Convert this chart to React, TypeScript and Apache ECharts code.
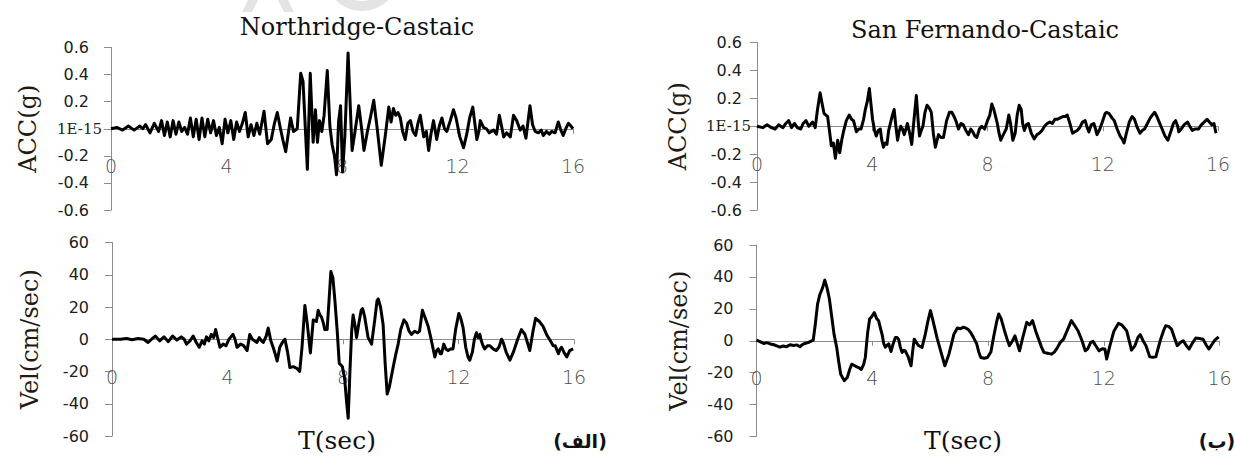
import React, { useEffect, useRef } from "react";
import * as echarts from "echarts";

// Time axis ticks (seconds)
const T_MIN = 0;
const T_MAX = 16;
const T_STEP = 4;

// Acceleration axis (g) and velocity axis (cm/sec)
const ACC_MIN = -0.6;
const ACC_MAX = 0.6;
const ACC_STEP = 0.2;
const VEL_MIN = -60;
const VEL_MAX = 60;
const VEL_STEP = 20;

const TITLES = ["Northridge-Castaic", "San Fernando-Castaic"];
const PANEL_TAGS = ["(الف)", "(ب)"];

// Northridge-Castaic acceleration record
const NR_ACC_T = [
  0.0, 0.2, 0.4, 0.6, 0.8, 1.0, 1.1, 1.2, 1.35, 1.5, 1.65, 1.75, 1.85, 1.95, 2.05, 2.15, 2.25, 2.35, 2.45, 2.55,
  2.65, 2.75, 2.85, 2.95, 3.05, 3.15, 3.25, 3.35, 3.45, 3.55, 3.65, 3.75, 3.85, 3.95, 4.05, 4.15, 4.25, 4.35, 4.45, 4.55,
  4.65, 4.75, 4.85, 4.95, 5.05, 5.15, 5.3, 5.42, 5.55, 5.65, 5.76, 5.85, 5.95, 6.05, 6.15, 6.22, 6.32, 6.45, 6.57, 6.65,
  6.8, 6.9, 7.0, 7.08, 7.15, 7.22, 7.3, 7.38, 7.49, 7.58, 7.66, 7.74, 7.81, 7.88, 7.95, 8.02, 8.1, 8.21, 8.35, 8.45,
  8.58, 8.68, 8.76, 8.88, 9.0, 9.1, 9.22, 9.36, 9.5, 9.62, 9.7, 9.78, 9.86, 9.94, 10.02, 10.1, 10.19, 10.28, 10.37, 10.46,
  10.55, 10.63, 10.71, 10.83, 10.92, 11.0, 11.08, 11.17, 11.28, 11.37, 11.46, 11.55, 11.63, 11.75, 11.86, 11.95, 12.08, 12.21, 12.32, 12.42,
  12.53, 12.6, 12.67, 12.74, 12.79, 12.9, 13.0, 13.1, 13.25, 13.35, 13.45, 13.6, 13.7, 13.83, 13.94, 14.05, 14.17, 14.27, 14.37, 14.51,
  14.6, 14.69, 14.8, 14.9, 14.97, 15.08, 15.18, 15.26, 15.38, 15.49, 15.58, 15.66, 15.75, 15.84, 15.93, 16.0,
];
const NR_ACC_V = [
  0, 0.01, -0.01, 0.02, -0.01, 0.02, 0.0, 0.03, -0.03, 0.04, -0.02, 0.06, -0.05, 0.05, -0.06, 0.06, -0.04, 0.05, -0.02, 0.01,
  -0.04, 0.08, -0.06, 0.07, -0.08, 0.08, -0.06, 0.07, -0.03, 0.06, -0.05, 0.01, -0.11, 0.07, -0.03, 0.06, -0.08, 0.05, -0.02, 0.04,
  0.12, -0.06, 0.03, -0.05, 0.04, -0.04, 0.13, -0.11, -0.08, 0.03, 0.12, 0.02, -0.08, -0.17, -0.02, 0.08, -0.02, 0.0, 0.41, 0.35,
  -0.3, 0.41, -0.1, 0.14, -0.1, 0.06, -0.02, 0.1, 0.43, 0.02, -0.12, -0.2, -0.34, 0.05, 0.17, -0.32, -0.05, 0.56, -0.16, -0.02,
  0.17, 0.0, -0.16, -0.02, 0.1, 0.21, 0.0, -0.27, -0.05, 0.16, 0.05, 0.15, 0.1, 0.12, 0.08, -0.02, -0.08, 0.04, 0.06, -0.02,
  -0.05, 0.04, 0.1, -0.06, -0.02, -0.16, -0.04, 0.06, -0.08, 0.02, 0.08, 0.0, -0.02, 0.06, 0.14, 0.08, -0.06, -0.14, -0.04, 0.08,
  0.16, 0.04, -0.08, -0.02, 0.06, 0.01, 0.0, -0.03, -0.01, -0.04, 0.1, -0.06, -0.03, -0.06, 0.1, 0.06, -0.01, 0.02, -0.07, 0.17,
  0.03, -0.02, -0.03, -0.01, -0.05, -0.02, -0.04, -0.02, -0.03, 0.05, -0.01, -0.05, 0.0, 0.04, 0.02, 0.0,
];

// Northridge-Castaic velocity record
const NR_VEL_T = [
  0, 0.3, 0.5, 0.7, 0.9, 1.1, 1.25, 1.4, 1.5, 1.65, 1.8, 1.95, 2.1, 2.25, 2.4, 2.5, 2.58, 2.7, 2.81, 2.92,
  3.02, 3.12, 3.2, 3.27, 3.35, 3.44, 3.52, 3.59, 3.67, 3.74, 3.85, 3.95, 4.05, 4.19, 4.26, 4.33, 4.45, 4.56, 4.68, 4.77,
  4.86, 4.94, 5.02, 5.1, 5.18, 5.24, 5.34, 5.41, 5.5, 5.58, 5.65, 5.72, 5.81, 5.9, 5.99, 6.08, 6.16, 6.28, 6.4, 6.5,
  6.58, 6.68, 6.76, 6.87, 6.97, 7.08, 7.14, 7.2, 7.25, 7.32, 7.37, 7.45, 7.52, 7.58, 7.65, 7.72, 7.8, 7.87, 7.93, 7.98,
  8.06, 8.12, 8.18, 8.24, 8.3, 8.35, 8.42, 8.47, 8.55, 8.63, 8.68, 8.75, 8.87, 8.99, 9.1, 9.18, 9.22, 9.3, 9.39, 9.46,
  9.53, 9.6, 9.74, 9.82, 9.91, 10.0, 10.11, 10.2, 10.29, 10.37, 10.48, 10.58, 10.65, 10.75, 10.85, 10.95, 11.04, 11.11, 11.18, 11.24,
  11.3, 11.37, 11.41, 11.49, 11.56, 11.64, 11.72, 11.81, 11.9, 12.01, 12.08, 12.16, 12.25, 12.33, 12.39, 12.48, 12.55, 12.62, 12.68, 12.74,
  12.79, 12.85, 12.91, 13.0, 13.08, 13.2, 13.31, 13.4, 13.49, 13.55, 13.65, 13.78, 13.9, 14.05, 14.18, 14.3, 14.47, 14.58, 14.67, 14.8,
  14.93, 15.05, 15.15, 15.28, 15.35, 15.46, 15.52, 15.57, 15.65, 15.75, 15.85, 15.97,
];
const NR_VEL_V = [
  0, 0, 0.5, -0.3, 0.5, 0, -2, 0.5, 2, -1, 1.5, -1.5, 2, -0.5, 1.5, 0, -3, -1, 2, -2,
  -5, -1, -3, 1.5, -1, 3, 1, 6, 0, -5, -3, -4, 0, 3, 0, -5, -3, -4, -7, 3,
  0, -1, -2, 1, -1, -2, 2, 7, -1, -5, -9, -13.5, -5, -2, 0, -8, -17.5, -17, -18, -20,
  -5, 21, 10, -8.5, 12, 11, 18, 15, 14, 10, 6, 6, 25, 42, 38, 24, 5, -15, -16, -17,
  -25, -38, -49, -20, 5, 15, 8, 1, 10, 18, 19, 14, 1, -3, 12, 24, 25, 20, 9, -15,
  -34, -30, -17, -10, -3, 6, 12, 10, 5, 3, 5, 4, 5, 18, 13, 8, 1, -5, -11, -7,
  -6, -9, -9, -3, -6, -7, -6, -6, 6, 16, 13, 7, -5, -11, -13, -8, 0, 4, 1, 3,
  -1, -4, -6, -4, -4, -6, -7, -5, 0, -2, -8, -13, -8, 0, 6, 3, -7, 5, 13, 11,
  8, 3, 0, -4, -4, -9, -6, -5, -8, -11, -7, -6,
];

// San Fernando-Castaic acceleration record
const SF_ACC_T = [
  0, 0.2, 0.35, 0.5, 0.63, 0.75, 0.9, 1.0, 1.1, 1.2, 1.3, 1.4, 1.52, 1.6, 1.7, 1.8, 1.93, 2.02, 2.1, 2.19,
  2.27, 2.33, 2.45, 2.52, 2.58, 2.65, 2.72, 2.8, 2.87, 2.94, 3.0, 3.1, 3.2, 3.28, 3.35, 3.45, 3.53, 3.61, 3.7, 3.76,
  3.83, 3.9, 3.96, 4.01, 4.08, 4.14, 4.21, 4.28, 4.33, 4.39, 4.45, 4.51, 4.57, 4.63, 4.7, 4.76, 4.82, 4.88, 4.93, 4.99,
  5.05, 5.11, 5.17, 5.22, 5.3, 5.37, 5.45, 5.53, 5.6, 5.64, 5.7, 5.76, 5.83, 5.9, 5.98, 6.05, 6.12, 6.19, 6.25, 6.3,
  6.38, 6.47, 6.58, 6.68, 6.76, 6.84, 6.92, 6.99, 7.08, 7.16, 7.25, 7.34, 7.42, 7.49, 7.56, 7.63, 7.72, 7.8, 7.9, 8.0,
  8.08, 8.15, 8.22, 8.34, 8.4, 8.46, 8.55, 8.65, 8.74, 8.8, 8.88, 8.96, 9.03, 9.1, 9.17, 9.22, 9.28, 9.35, 9.42, 9.52,
  9.62, 9.72, 9.8, 9.89, 9.98, 10.07, 10.16, 10.25, 10.34, 10.43, 10.52, 10.62, 10.7, 10.77, 10.86, 10.95, 11.03, 11.11, 11.2, 11.3,
  11.39, 11.46, 11.52, 11.6, 11.69, 11.75, 11.8, 11.9, 12.0, 12.08, 12.13, 12.22, 12.32, 12.4, 12.5, 12.6, 12.67, 12.74, 12.82, 12.92,
  13.02, 13.1, 13.2, 13.29, 13.37, 13.45, 13.55, 13.65, 13.72, 13.8, 13.88, 13.96, 14.06, 14.16, 14.26, 14.36, 14.45, 14.53, 14.6, 14.64,
  14.72, 14.82, 14.94, 15.02, 15.11, 15.2, 15.32, 15.42, 15.52, 15.62, 15.7, 15.79, 15.86, 15.93,
];
const SF_ACC_V = [
  0, -0.01, 0.01, -0.01, -0.02, 0.01, -0.01, 0.02, 0.04, -0.01, 0.02, -0.01, -0.02, 0.02, 0.04, 0.0, 0.03, -0.01, 0.12, 0.24,
  0.15, 0.09, 0.07, -0.04, -0.14, -0.12, -0.23, -0.1, -0.19, -0.1, -0.04, 0.04, 0.08, 0.05, 0.04, -0.04, -0.02, -0.02, 0.05, 0.12,
  0.18, 0.27, 0.15, 0.05, -0.03, -0.07, -0.03, -0.02, -0.1, -0.15, -0.12, -0.13, -0.03, 0.02, 0.08, 0.12, 0.0, -0.1, -0.04, 0.0,
  -0.02, -0.06, -0.02, 0.02, -0.05, -0.13, 0.05, 0.22, 0.02, -0.07, -0.03, 0.0, 0.1, 0.15, 0.13, 0.1, -0.05, -0.15, -0.1, -0.06,
  -0.08, -0.08, 0.04, 0.1, 0.1, 0.07, 0.03, -0.02, 0.02, 0.01, -0.03, -0.06, -0.02, -0.04, -0.07, -0.08, -0.02, 0.0, -0.02, 0.04,
  0.08, 0.16, 0.12, 0.02, -0.05, -0.1, -0.06, -0.02, 0.08, 0.02, -0.1, -0.05, 0.08, 0.15, 0.12, 0.02, -0.03, 0.01, 0.02, -0.05,
  -0.09, -0.06, -0.05, -0.03, 0.0, 0.02, 0.03, 0.02, 0.05, 0.05, 0.06, 0.07, 0.07, 0.08, 0.02, -0.05, -0.04, -0.03, -0.01, 0.03,
  0.04, -0.01, -0.04, 0.01, 0.02, -0.02, -0.06, -0.02, 0.04, 0.09, 0.1, 0.09, 0.06, 0.04, -0.02, -0.07, -0.09, -0.12, -0.05, 0.03,
  0.07, 0.05, -0.01, -0.05, -0.03, -0.02, 0.02, 0.06, 0.08, 0.1, 0.07, 0.03, -0.02, -0.07, -0.1, -0.04, 0.02, 0.04, 0.0, -0.04,
  -0.02, 0.01, 0.03, 0.0, -0.03, -0.02, -0.02, 0.01, 0.03, 0.05, 0.03, 0.01, 0.02, -0.05,
];

// San Fernando-Castaic velocity record
const SF_VEL_T = [
  0, 0.12, 0.25, 0.35, 0.48, 0.6, 0.7, 0.81, 0.92, 1.04, 1.16, 1.28, 1.4, 1.5, 1.58, 1.67, 1.8, 1.96, 2.03, 2.11,
  2.19, 2.28, 2.36, 2.44, 2.52, 2.6, 2.68, 2.77, 2.84, 2.91, 3.03, 3.14, 3.22, 3.29, 3.38, 3.47, 3.55, 3.62, 3.7, 3.76,
  3.84, 3.91, 3.98, 4.07, 4.15, 4.22, 4.28, 4.34, 4.4, 4.45, 4.5, 4.57, 4.65, 4.72, 4.8, 4.86, 4.91, 4.97, 5.03, 5.1,
  5.14, 5.24, 5.34, 5.4, 5.45, 5.52, 5.6, 5.72, 5.82, 5.92, 6.01, 6.08, 6.18, 6.25, 6.33, 6.42, 6.51, 6.58, 6.65, 6.74,
  6.82, 6.94, 7.05, 7.15, 7.23, 7.32, 7.4, 7.5, 7.61, 7.68, 7.75, 7.87, 7.98, 8.1, 8.2, 8.3, 8.37, 8.45, 8.57, 8.66,
  8.74, 8.85, 8.93, 9.0, 9.09, 9.2, 9.34, 9.44, 9.54, 9.65, 9.75, 9.85, 9.93, 10.05, 10.2, 10.3, 10.4, 10.5, 10.61, 10.75,
  10.88, 10.98, 11.11, 11.25, 11.36, 11.45, 11.55, 11.63, 11.72, 11.84, 11.95, 12.04, 12.1, 12.2, 12.35, 12.51, 12.62, 12.79, 12.88, 12.96,
  13.08, 13.18, 13.26, 13.36, 13.46, 13.59, 13.7, 13.8, 13.95, 14.06, 14.14, 14.24, 14.34, 14.44, 14.54, 14.65, 14.75, 14.85, 14.95, 15.08,
  15.18, 15.3, 15.43, 15.55, 15.63, 15.75, 15.84, 15.97,
];
const SF_VEL_V = [
  0.4, -0.5, -1.7, -1.2, -2, -2.5, -3.2, -4, -3.3, -3.7, -2.5, -3, -2.6, -3.8, -2.5, -1.7, -1, 0.4, 10, 23,
  29, 33, 38, 33, 26, 15, 4, -4, -13, -21, -25, -23, -18, -14.7, -15.5, -16.4, -17, -18, -15, -10.5,
  5, 13.6, 15, 17.6, 14, 12.6, 8, 4, -2, -4, -3, -2, -6.7, -2, 2, 2, 1, -4, -7.3, -6,
  -6.3, -10, -15.7, -6, 1, -1, -3, -4.2, 3, 12, 18.9, 14, 6.3, 1, -4.2, -10, -15.7, -12, -8.4, -2,
  4, 8, 7.5, 8.5, 8, 7, 5.2, 2, -2, -7, -10.5, -11, -10.5, -7, 3, 12, 16.8, 14, 6.3, 1,
  -3.1, 0, 3.1, -1, -6.3, 2, 11.5, 10, 12.6, 6, 1, -4, -7.3, -7.8, -8.4, -7, -4.2, -1, 1, 7,
  12.6, 10, 6.3, 0, -6.3, -5, -1, -0.4, -3, -6.3, -5, -5.2, -11.5, -4, 6, 10.9, 10, 6.3, 0, -5.9,
  -3, 2, 3.8, 0, -3.1, -10.1, -10.3, -10.1, 0, 6, 9.4, 9, 7.3, 2, -3.1, -1, 0, -3, -5.2, -1,
  1.7, 1.4, 1, -3, -5.2, -2, 0.4, 2.5,
];

const AXIS_GRAY = "#8c8c8c";
const Y_LABEL_COLOR = "#202020";
const X_LABEL_COLOR = "#4f4f4f";
const NAME_COLOR = "#231a14";

const pairs = (t: number[], v: number[]) => t.map((x, i) => [x, v[i]]);

type Box = { left: number; top: number; width: number; height: number };

const GRIDS: Box[] = [
  { left: 111, top: 47.5, width: 462, height: 162.5 },
  { left: 112, top: 242.5, width: 462, height: 193.5 },
  { left: 757, top: 42.5, width: 461, height: 167.5 },
  { left: 756.5, top: 245, width: 463, height: 191.5 },
];

// The time axis sits on the zero line: the value ranges are symmetric,
// so the axis is lifted from the grid bottom by half the grid height.
function timeAxis(gridIndex: number) {
  return {
    type: "value",
    gridIndex,
    position: "bottom",
    offset: -GRIDS[gridIndex].height / 2,
    min: T_MIN,
    max: T_MAX,
    interval: T_STEP,
    axisLine: { show: true, onZero: false, lineStyle: { color: AXIS_GRAY, width: 1 } },
    axisTick: { show: true, length: 5, lineStyle: { color: AXIS_GRAY } },
    splitLine: { show: false },
    axisLabel: {
      margin: 28,
      fontFamily: "DejaVu Sans",
      fontWeight: 200,
      fontSize: 19,
      color: X_LABEL_COLOR,
    },
  };
}

function accAxis(gridIndex: number, gap: number, zeroGap: number, nameGap: number) {
  return {
    type: "value",
    gridIndex,
    min: ACC_MIN,
    max: ACC_MAX,
    interval: ACC_STEP,
    name: "ACC(g)",
    nameLocation: "middle",
    nameRotate: 90,
    nameGap,
    nameTextStyle: { fontFamily: "DejaVu Serif", fontSize: 24, color: NAME_COLOR },
    axisLine: { show: true, onZero: false, lineStyle: { color: AXIS_GRAY, width: 1 } },
    axisTick: { show: true, length: 7, lineStyle: { color: AXIS_GRAY } },
    splitLine: { show: false },
    axisLabel: {
      margin: zeroGap,
      formatter: (v: number) =>
        Math.abs(v) < 1e-9 ? "{z|1E-15}" : "{n|" + v.toFixed(1) + "}",
      rich: {
        n: {
          fontFamily: "DejaVu Sans",
          fontSize: 16,
          color: Y_LABEL_COLOR,
          padding: [0, gap - zeroGap, 0, 0],
        },
        z: { fontFamily: "DejaVu Serif", fontSize: 15, color: Y_LABEL_COLOR },
      },
    },
  };
}

function velAxis(gridIndex: number, gap: number, nameGap: number) {
  return {
    type: "value",
    gridIndex,
    min: VEL_MIN,
    max: VEL_MAX,
    interval: VEL_STEP,
    name: "Vel(cm/sec)",
    nameLocation: "middle",
    nameRotate: 90,
    nameGap,
    nameTextStyle: { fontFamily: "DejaVu Serif", fontSize: 24, color: NAME_COLOR },
    axisLine: { show: true, onZero: false, lineStyle: { color: AXIS_GRAY, width: 1 } },
    axisTick: { show: true, length: 7, lineStyle: { color: AXIS_GRAY } },
    splitLine: { show: false },
    axisLabel: {
      margin: gap,
      fontFamily: "DejaVu Sans",
      fontSize: 16,
      color: Y_LABEL_COLOR,
    },
  };
}

function trace(index: number, data: number[][]) {
  return {
    type: "line",
    xAxisIndex: index,
    yAxisIndex: index,
    data,
    symbol: "none",
    showSymbol: false,
    silent: true,
    z: 3,
    lineStyle: { color: "#000000", width: 3, join: "round" },
  };
}

function label(text: string, x: number, y: number, font: string, fill = "#111111") {
  return {
    type: "text",
    x,
    y,
    silent: true,
    style: { text, font, fill, align: "center", verticalAlign: "middle" },
  };
}

export default function App() {
  const ref = useRef<HTMLDivElement>(null);

  useEffect(() => {
    if (!ref.current) return;
    const chart = echarts.init(ref.current, undefined, { renderer: "svg" });

    const serif = '24px "DejaVu Serif"';
    const wm = "#e4e4e4";

    chart.setOption({
      animation: false,
      backgroundColor: "#ffffff",
      grid: GRIDS.map((g) => ({ ...g, containLabel: false })),
      xAxis: [timeAxis(0), timeAxis(1), timeAxis(2), timeAxis(3)],
      yAxis: [
        accAxis(0, 22, 9, 71),
        velAxis(1, 23, 70),
        accAxis(2, 15, 6, 67),
        velAxis(3, 23, 66),
      ],
      series: [
        trace(0, pairs(NR_ACC_T, NR_ACC_V)),
        trace(1, pairs(NR_VEL_T, NR_VEL_V)),
        trace(2, pairs(SF_ACC_T, SF_ACC_V)),
        trace(3, pairs(SF_VEL_T, SF_VEL_V)),
      ],
      graphic: [
        // faint logo fragments along the top edge
        { type: "polygon", silent: true, shape: { points: [[242, 12], [252, 12], [258, 0], [248, 0]] }, style: { fill: wm } },
        { type: "polygon", silent: true, shape: { points: [[278, 0], [288, 0], [294, 12], [284, 12]] }, style: { fill: wm } },
        { type: "arc", silent: true, shape: { cx: 362, cy: -26, r: 32, startAngle: 0.35, endAngle: 2.8 }, style: { stroke: wm, lineWidth: 10, fill: "none" } },
        label(TITLES[0], 357, 27, serif),
        label(TITLES[1], 985, 30, serif),
        label("T(sec)", 337, 440, '25px "DejaVu Serif"'),
        label("T(sec)", 963, 440, '25px "DejaVu Serif"'),
        label(PANEL_TAGS[0], 580, 441, 'bold 19px "DejaVu Sans"'),
        label(PANEL_TAGS[1], 1217, 441, 'bold 19px "DejaVu Sans"'),
      ],
    });

    return () => chart.dispose();
  }, []);

  return (
    <div
      ref={ref}
      style={{ position: "absolute", left: 0, top: 0, width: 1235, height: 463, background: "#fff" }}
    />
  );
}
